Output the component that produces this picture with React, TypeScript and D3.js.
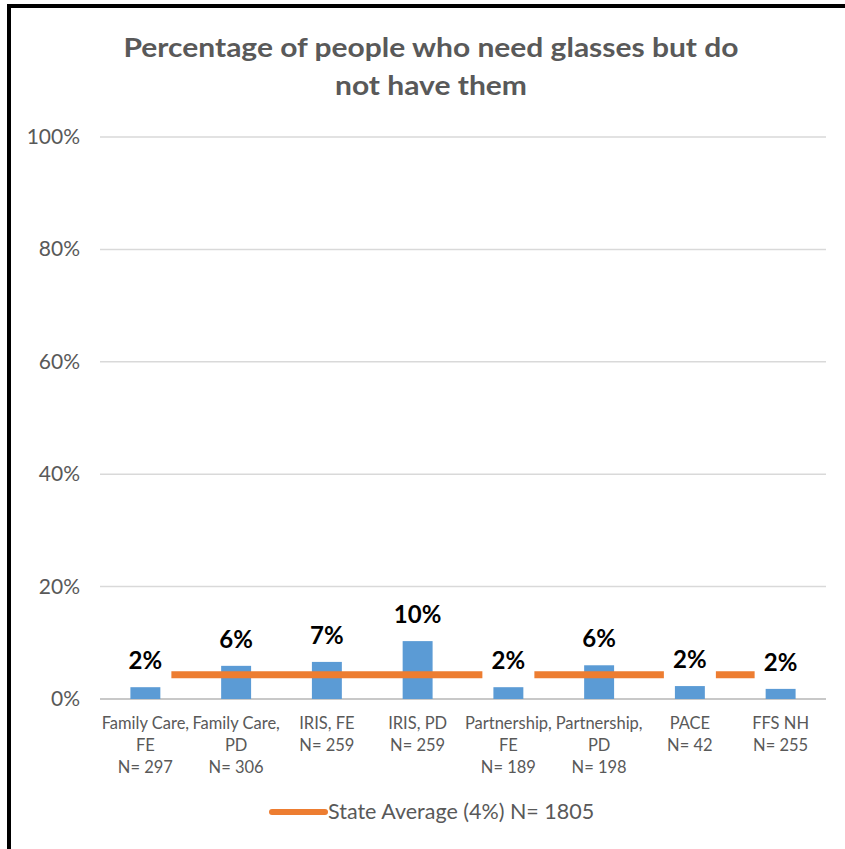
import React from "react";
import * as d3 from "d3";

const categories = [
  ["Family Care,", "FE", "N= 297"],
  ["Family Care,", "PD", "N= 306"],
  ["IRIS, FE", "N= 259"],
  ["IRIS, PD", "N= 259"],
  ["Partnership,", "FE", "N= 189"],
  ["Partnership,", "PD", "N= 198"],
  ["PACE", "N= 42"],
  ["FFS NH", "N= 255"],
];
const values = [0.021, 0.059, 0.066, 0.103, 0.021, 0.06, 0.023, 0.018];
const valueLabels = ["2%", "6%", "7%", "10%", "2%", "6%", "2%", "2%"];
const stateAverage = 0.043;
const legendLabel = "State Average (4%) N= 1805";
const yTicks = [0, 0.2, 0.4, 0.6, 0.8, 1.0];
const titleLines = ["Percentage of people who need glasses but do", "not have them"];
const titleWidths = [615, 192];

const W = 845;
const H = 849;
const left = 100;
const right = 826;
const top = 137;
const bottom = 699;

export default function App() {
  const x = d3
    .scaleBand<number>()
    .domain(categories.map((_, i) => i))
    .range([left, right])
    .paddingInner(0.67)
    .paddingOuter(0.335);
  const xc = d3.scaleBand<number>().domain(categories.map((_, i) => i)).range([left, right]);
  const y = d3.scaleLinear().domain([0, 1]).range([bottom, top]);
  const fmt = d3.format(".0%");
  const font = "Lato, 'Open Sans', sans-serif";
  const gray = "#595959";
  const lineGen = d3
    .line<number>()
    .x((i) => xc(i)! + xc.bandwidth() / 2)
    .y(() => y(stateAverage));

  return (
    <svg width={W} height={H} style={{ position: "absolute", left: 0, top: 0 }} fontFamily={font}>
      <rect x={0} y={0} width={W} height={H} fill="#fff" />
      {/* border */}
      <line x1={9} y1={6} x2={W} y2={6} stroke="#000" strokeWidth={4} />
      <line x1={9} y1={4} x2={9} y2={H} stroke="#000" strokeWidth={4} />
      {/* title */}
      {titleLines.map((t, i) => (
        <text
          key={i}
          x={431}
          y={57 + i * 38}
          textAnchor="middle"
          fontSize={27}
          fontWeight="bold"
          fill={gray}
          textLength={titleWidths[i]}
          lengthAdjust="spacingAndGlyphs"
        >
          {t}
        </text>
      ))}
      {/* gridlines */}
      {yTicks.map((t) => (
        <g key={t}>
          <line
            x1={left}
            x2={right}
            y1={y(t)}
            y2={y(t)}
            stroke={t === 0 ? "#c8c8c8" : "#d9d9d9"}
            strokeWidth={t === 0 ? 2 : 1.5}
          />
          <text x={80} y={y(t) + 7} textAnchor="end" fontSize={21} fill={gray}>
            {fmt(t)}
          </text>
        </g>
      ))}
      {/* bars */}
      {values.map((v, i) => (
        <rect key={i} x={x(i)} y={y(v)} width={x.bandwidth()} height={y(0) - y(v)} fill="#5B9BD5" />
      ))}
      {/* state average line */}
      <path d={lineGen(categories.map((_, i) => i)) || ""} stroke="#ED7D31" strokeWidth={7} fill="none" />
      {/* value labels with white backgrounds */}
      {values.map((v, i) => {
        const cx = xc(i)! + xc.bandwidth() / 2;
        const by = y(v) - 18;
        return (
          <g key={i}>
            <rect x={cx - 26} y={by - 24} width={52} height={36} fill="#fff" />
            <text x={cx} y={by} textAnchor="middle" fontSize={24} fontWeight="bold" fill="#000">
              {valueLabels[i]}
            </text>
          </g>
        );
      })}
      {/* category labels */}
      {categories.map((lines, i) => {
        const cx = xc(i)! + xc.bandwidth() / 2;
        return (
          <text key={i} textAnchor="middle" fontSize={16.5} fill={gray}>
            {lines.map((l, j) => (
              <tspan key={j} x={cx} y={729 + j * 22}>
                {l}
              </tspan>
            ))}
          </text>
        );
      })}
      {/* legend */}
      <line x1={272} x2={325} y1={812} y2={812} stroke="#ED7D31" strokeWidth={6} strokeLinecap="round" />
      <text x={328} y={819} fontSize={21.5} fill={gray}>
        {legendLabel}
      </text>
    </svg>
  );
}
